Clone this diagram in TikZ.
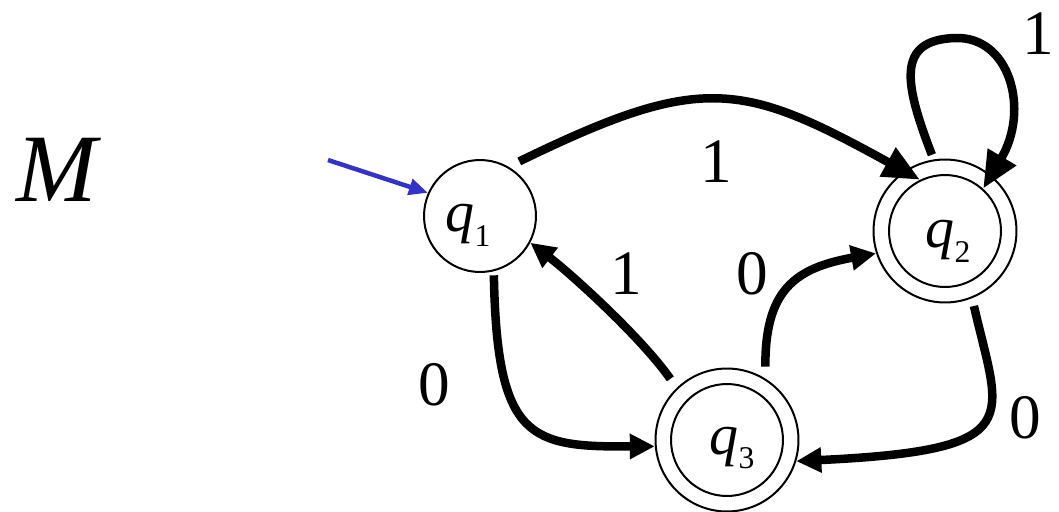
\documentclass[tikz,border=0pt]{standalone}
\usepackage{fontspec}
\setmainfont{Liberation Serif}
\usetikzlibrary{arrows.meta}
\definecolor{initblue}{RGB}{51,51,204}
\newcommand{\qname}[1]{\fontsize{33}{33}\selectfont\itshape q\raisebox{-8.5pt}{\upshape\fontsize{18}{18}\selectfont #1}}
\begin{document}
\begin{tikzpicture}[x=0.02cm,y=-0.02cm,
  st/.style={circle, draw, line width=0.04cm, minimum size=2.24cm, inner sep=0pt},
  acc/.style={circle, draw, line width=0.04cm, minimum size=2.86cm, inner sep=0pt},
  qtext/.style={inner sep=0pt},
  lab/.style={inner sep=0pt, font=\fontsize{36}{36}\selectfont},
  tr/.style={line width=0.17cm, -{Triangle[length=0.5cm,width=0.48cm]}},
  bigtip/.style={-{Triangle[length=0.74cm,width=0.62cm]}},
  initarrow/.style={initblue, line width=0.09cm, -{Triangle[length=0.38cm,width=0.32cm]}}
]
\useasboundingbox (0,0) rectangle (1059,511);

% states
\node[st] (q1) at (480,216) {};
\node[acc] (q2) at (945,231) {};
\node[st] (q2i) at (945,231) {};
\node[acc] (q3) at (727,440) {};
\node[st] (q3i) at (727,440) {};

\node[qtext] (t1) at (468,225) {\qname{1}};
\node[qtext] (t2) at (948,241) {\qname{2}};
\node[qtext] (t3) at (732,448) {\qname{3}};

\node[inner sep=0pt, font=\fontsize{55}{55}\selectfont\itshape] (M) at (57,170) {M};

% initial arrow
\coordinate (init) at (328,160);
\draw[initarrow] (init) -- (q1.156);

% q1 -> q2
\draw[tr, bigtip, shorten <=0.24cm] (q1.60) .. controls (701,73) and (741,81) .. (q2i.116);
\node[lab] (l12) at (716,162) {1};

% loop on q2
\coordinate (looptop) at (955,38);
\draw[tr, bigtip, shorten <=0.1cm] (q2.99) .. controls (905,85) and (895,40) .. (looptop)
  .. controls (1010,36) and (1030,110) .. (q2i.48);
\node[lab] (l22) at (1038,34) {1};

% q3 -> q1
\draw[tr, shorten <=0.22cm] (q3.134) .. controls (641,337) and (570,273) .. (q1.-28);
\node[lab] (l31) at (626,274) {1};

% q1 -> q3
\draw[tr, shorten <=0.08cm] (q1.-76) .. controls (497,440) and (530,447) .. (q3.185);
\node[lab] (l13) at (434,385) {0};

% q3 -> q2
\draw[tr, shorten <=0.24cm] (q3.58) .. controls (765,290) and (795,268) .. (q2.198);
\node[lab] (l32) at (752,274) {0};

% q2 -> q3
\draw[tr, shorten <=0.16cm] (q2.-68) .. controls (1000,420) and (1030,450) .. (q3.-17);
\node[lab] (l23) at (1025,418) {0};
\end{tikzpicture}
\end{document}
